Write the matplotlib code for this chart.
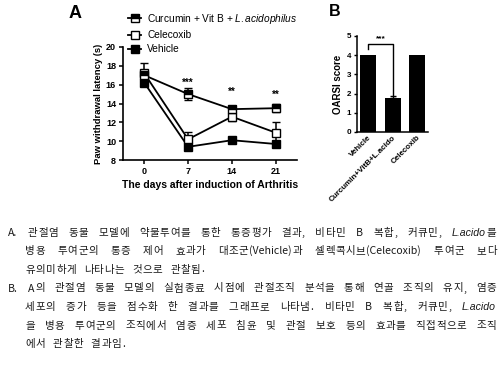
import matplotlib
matplotlib.use("Agg")
import matplotlib.pyplot as plt
from matplotlib.lines import Line2D
import numpy as np

# panel A data
days = [0, 7, 14, 21]
curcumin_mean = [17.0, 15.0, 13.4, 13.5]
curcumin_err = [0.3, 0.6, 0.2, 0.4]
celecoxib_mean = [17.2, 10.2, 12.6, 10.9]
celecoxib_err = [1.1, 0.8, 0.5, 1.1]
vehicle_mean = [16.2, 9.4, 10.1, 9.7]
vehicle_err = [0.2, 0.2, 0.15, 0.2]
star_days = [7, 14, 21]
star_labels = ["***", "**", "**"]
star_y = [16.2, 15.2, 14.9]

# panel B data
groups = ["Vehicle", "Curcumin+VitB+L.acido", "Celecoxib"]
oarsi = [4.0, 1.75, 4.0]
oarsi_err = [0.0, 0.15, 0.0]

# caption lines: words made of (text, italic) pieces
caption = [
    ("A. 관절염 동물 모델에 약물투여를 통한 통증평가 결과, 비타민 B 복합, 커큐민,", [("L.acido", True), ("를", False)], True, 8),
    ("병용 투여군의 통증 제어 효과가 대조군(Vehicle)과 셀렉콕시브(Celecoxib) 투여군 보다", None, True, 25),
    ("유의미하게 나타나는 것으로 관찰됨.", None, False, 25),
    ("B. A의 관절염 동물 모델의 실험종료 시점에 관절조직 분석을 통해 연골 조직의 유지, 염증", None, True, 8),
    ("세포의 증가 등을 점수화 한 결과를 그래프로 나타냄. 비타민 B 복합, 커큐민,", [("L.acido", True)], True, 25),
    ("을 병용 투여군의 조직에서 염증 세포 침윤 및 관절 보호 등의 효과를 직접적으로 조직", None, True, 25),
    ("에서 관찰한 결과임.", None, False, 25),
]
caption_y = [233, 251, 269.5, 288.5, 307, 325.5, 344]

plt.rcParams['font.family'] = ['Liberation Sans', 'DejaVu Sans']
plt.rcParams['mathtext.fontset'] = 'custom'
plt.rcParams['mathtext.it'] = 'Liberation Sans:italic'
plt.rcParams['mathtext.rm'] = 'Liberation Sans'

W, H = 500, 373
fig = plt.figure(figsize=(5, 3.73), dpi=100)

def fx(px):
    return px / W

def fy(py):
    return 1 - py / H

# ---------------- panel A
ax = fig.add_axes([fx(123), fy(160), fx(297) - fx(123), fy(47) - fy(160)])
kw = dict(color='black', lw=1.3, capsize=3, elinewidth=1.1, capthick=1.1,
          marker='s', markersize=5.5, markeredgecolor='black', markeredgewidth=1)
ax.errorbar(days, vehicle_mean, yerr=vehicle_err, markerfacecolor='black', **kw)
ax.errorbar(days, celecoxib_mean, yerr=celecoxib_err, markerfacecolor='white', **kw)
ax.errorbar(days, curcumin_mean, yerr=curcumin_err, markerfacecolor='black',
            fillstyle='top', markerfacecoloralt='white', **kw)
for d, s, y in zip(star_days, star_labels, star_y):
    ax.text(d, y, s, ha='center', va='center', fontsize=7, fontweight='bold')

ax.set_xlim(-3.4, 24.4)
ax.set_ylim(8, 20)
ax.set_xticks(days)
ax.set_yticks(np.arange(8, 21, 2))
for sp in ['top', 'right']:
    ax.spines[sp].set_visible(False)
for sp in ['left', 'bottom']:
    ax.spines[sp].set_linewidth(1.2)
ax.tick_params(width=1.1, length=3, labelsize=6.5, pad=2)
for lab in ax.get_xticklabels() + ax.get_yticklabels():
    lab.set_fontweight('bold')
ax.set_xlabel("The days after induction of Arthritis", fontsize=7.5, fontweight='bold', labelpad=3)
ax.set_ylabel("Paw withdrawal latency (s)", fontsize=6.8, fontweight='bold', labelpad=2)

handles = [
    Line2D([], [], color='black', lw=1.3, marker='s', markersize=5.5, markerfacecolor='black',
           fillstyle='top', markerfacecoloralt='white', markeredgecolor='black'),
    Line2D([], [], color='black', lw=1.3, marker='s', markersize=5.5, markerfacecolor='white',
           markeredgecolor='black'),
    Line2D([], [], color='black', lw=1.3, marker='s', markersize=5.5, markerfacecolor='black',
           markeredgecolor='black'),
]
labels = [r"Curcumin + Vit B + $\mathit{L.acidophilus}$", "Celecoxib", "Vehicle"]
fig.legend(handles, labels, loc='upper left', bbox_to_anchor=(fx(128), fy(12)),
           frameon=False, fontsize=7.3, handlelength=1.3, handletextpad=0.6,
           labelspacing=0.4, borderaxespad=0, borderpad=0)

fig.text(fx(75), fy(13), "A", fontsize=13, fontweight='bold', ha='center', va='center')

# ---------------- panel B
bx = fig.add_axes([fx(357), fy(132), fx(428) - fx(357), fy(36) - fy(132)])
xpos = np.arange(len(groups))
bx.bar(xpos, oarsi, width=0.65, color='black')
bx.errorbar(xpos[1:2], oarsi[1:2], yerr=[[0], oarsi_err[1:2]], fmt='none', ecolor='black',
            elinewidth=1, capsize=2.5, capthick=1)
bx.plot([0, 0, 1, 1], [4.3, 4.6, 4.6, 1.95], color='black', lw=1)
bx.text(0.5, 4.85, "***", ha='center', va='center', fontsize=6, fontweight='bold')
bx.set_xlim(-0.46, 2.45)
bx.set_ylim(0, 5)
bx.set_yticks(range(6))
bx.set_xticks(xpos)
bx.set_xticklabels(groups, rotation=45, ha='right', rotation_mode='anchor')
for sp in ['top', 'right']:
    bx.spines[sp].set_visible(False)
for sp in ['left', 'bottom']:
    bx.spines[sp].set_linewidth(1.1)
bx.tick_params(width=1, length=2.5, labelsize=5.8, pad=1.5)
bx.tick_params(axis='x', length=0)
for lab in bx.get_xticklabels() + bx.get_yticklabels():
    lab.set_fontweight('bold')
bx.set_ylabel("OARSI score", fontsize=7, fontweight='bold', labelpad=3)

fig.text(fx(335), fy(11), "B", fontsize=11.5, fontweight='bold', ha='center', va='center')

# ---------------- caption (justified lines, syllables on a fixed pitch like the original)
renderer = fig.canvas.get_renderer()
kr_family = ['Noto Sans CJK KR', 'DejaVu Sans']
cap_size = 7.6
cap_color = '#1a1a1a'
right_edge = 497
space_w = 7.0   # word gap on the last (ragged) line of a paragraph, px
track = 0.6     # extra gap after each Korean syllable, px

def piece(x, y, txt, italic, ha='left'):
    if italic:
        t = fig.text(fx(x), fy(y), txt, fontsize=cap_size, family='Liberation Sans',
                     style='italic', va='center', ha=ha, color=cap_color)
    else:
        t = fig.text(fx(x), fy(y), txt, fontsize=cap_size, family=kr_family,
                     va='center', ha=ha, color=cap_color)
    return t

_cache = {}
def measure(txt, italic):
    key = (txt, italic)
    if key not in _cache:
        t = piece(0, 0, txt, italic)
        _cache[key] = t.get_window_extent(renderer).width
        t.remove()
    return _cache[key]

# Hangul syllables share one advance width (1 em)
hangul_adv = measure("가가가", False) - measure("가가", False)

def is_hangul(ch):
    return '\uac00' <= ch <= '\ud7a3'

def glyph_runs(word):
    # split a word into runs: each Korean syllable alone, latin kept together
    runs = []
    for txt, it in word:
        if it:
            runs.append((txt, True))
            continue
        buf = ""
        for ch in txt:
            if is_hangul(ch):
                if buf:
                    runs.append((buf, False))
                    buf = ""
                runs.append((ch, False))
            else:
                buf += ch
        if buf:
            runs.append((buf, False))
    return runs

def advance(txt, italic):
    if not italic and is_hangul(txt[0]):
        return hangul_adv + track
    return measure(txt, italic) + 1.0

def run_width(runs):
    return sum(advance(t, it) for t, it in runs)

for (line, tail, justify, x0), y in zip(caption, caption_y):
    words = [[(w, False)] for w in line.split(" ")]
    if tail is not None:
        words.append(tail)
    runs = [glyph_runs(w) for w in words]
    widths = [run_width(r) for r in runs]
    if justify and len(words) > 1:
        gap = (right_edge - x0 - sum(widths)) / (len(words) - 1)
    else:
        gap = space_w
    x = x0
    for r, ww in zip(runs, widths):
        xx = x
        for txt, it in r:
            adv = advance(txt, it)
            if not it and is_hangul(txt[0]):
                # centre each syllable in its cell so ink bearings do not jitter
                piece(xx + (adv - track) / 2, y, txt, it, ha='center')
            else:
                piece(xx, y, txt, it)
            xx += adv
        x += ww + gap

fig.savefig("out.png", dpi=100)
